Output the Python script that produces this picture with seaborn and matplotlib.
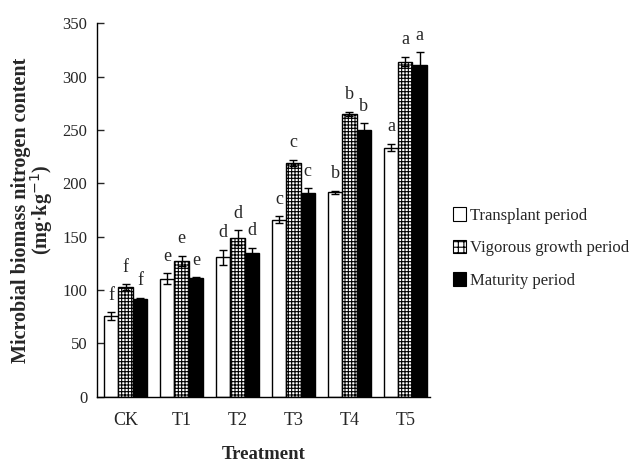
import numpy as np
import pandas as pd
import matplotlib
matplotlib.use('Agg')
import matplotlib.pyplot as plt
import seaborn as sns
from matplotlib.patches import Patch

treatments = ['CK', 'T1', 'T2', 'T3', 'T4', 'T5']
periods = ['Transplant period', 'Vigorous growth period', 'Maturity period']
transplant = [75.5, 110.5, 130.5, 166, 191.5, 233.5]
vigorous = [102.5, 127, 149, 219, 265, 314]
maturity = [91.5, 111, 135, 191, 249.5, 311]
transplant_err = [3.5, 5, 7, 3, 1.5, 3.5]
vigorous_err = [3, 5, 7, 3, 2, 4.5]
maturity_err = [1, 1, 4.5, 4.5, 7, 12]
letters_transplant = ['f', 'e', 'd', 'c', 'b', 'a']
letters_vigorous = ['f', 'e', 'd', 'c', 'b', 'a']
letters_maturity = ['f', 'e', 'd', 'c', 'b', 'a']

values = [transplant, vigorous, maturity]
errors = [transplant_err, vigorous_err, maturity_err]
letters = [letters_transplant, letters_vigorous, letters_maturity]

rows = []
for p, vals in zip(periods, values):
    for t, v in zip(treatments, vals):
        rows.append({'Treatment': t, 'Period': p, 'Value': v})
df = pd.DataFrame(rows)

sns.set_style('ticks')
plt.rcParams['font.family'] = ['Liberation Serif', 'DejaVu Serif']
plt.rcParams['hatch.linewidth'] = 0.8

fig = plt.figure(figsize=(6.35, 4.66), dpi=100)
ax = fig.add_axes([0.153, 0.149, 0.524, 0.801])

palette = ['white', 'white', 'black']
sns.barplot(data=df, x='Treatment', y='Value', hue='Period', order=treatments,
            hue_order=periods, palette=palette, edgecolor='black', linewidth=1,
            width=0.77, legend=False, ax=ax, errorbar=None, saturation=1)

bar_containers = list(ax.containers)
hatches = [None, '+++++', None]
for i, cont in enumerate(bar_containers):
    for j, bar in enumerate(cont):
        if hatches[i]:
            bar.set_hatch(hatches[i])
        cx = bar.get_x() + bar.get_width() / 2
        v = values[i][j]
        e = errors[i][j]
        ax.errorbar(cx, v, yerr=e, fmt='none', ecolor='black', elinewidth=1,
                    capsize=3, capthick=1, zorder=5)
        ax.annotate(letters[i][j], (cx, v + e), xytext=(0, 9),
                    textcoords='offset points', ha='center', va='baseline',
                    fontsize=13)

ax.set_ylim(0, 350)
ax.set_yticks(np.arange(0, 351, 50))
ax.set_xlim(-0.51, 5.44)
sns.despine(ax=ax)
ax.tick_params(axis='y', direction='in', length=5, width=1, labelsize=12, pad=7)
ax.tick_params(axis='x', length=0, labelsize=13, pad=11)
for s in ['left', 'bottom']:
    ax.spines[s].set_linewidth(1)
    ax.spines[s].set_color('black')
ax.set_xlabel('Treatment', fontsize=13.5, fontweight='bold', labelpad=12)
ax.set_ylabel('Microbial biomass nitrogen content\n(mg$\\cdot$kg$^{-1}$)',
              fontsize=14.5, fontweight='bold', labelpad=5, linespacing=0.9)

handles = [Patch(facecolor='white', edgecolor='black', linewidth=0.8),
           Patch(facecolor='white', edgecolor='black', hatch='+++', linewidth=0.8),
           Patch(facecolor='black', edgecolor='black', linewidth=0.8)]
fig.legend(handles, periods, loc='center left', bbox_to_anchor=(0.69, 0.468),
           frameon=False, fontsize=12, handlelength=0.75, handleheight=0.9,
           handletextpad=0.25, labelspacing=0.95)

fig.savefig('out.png', dpi=100)
